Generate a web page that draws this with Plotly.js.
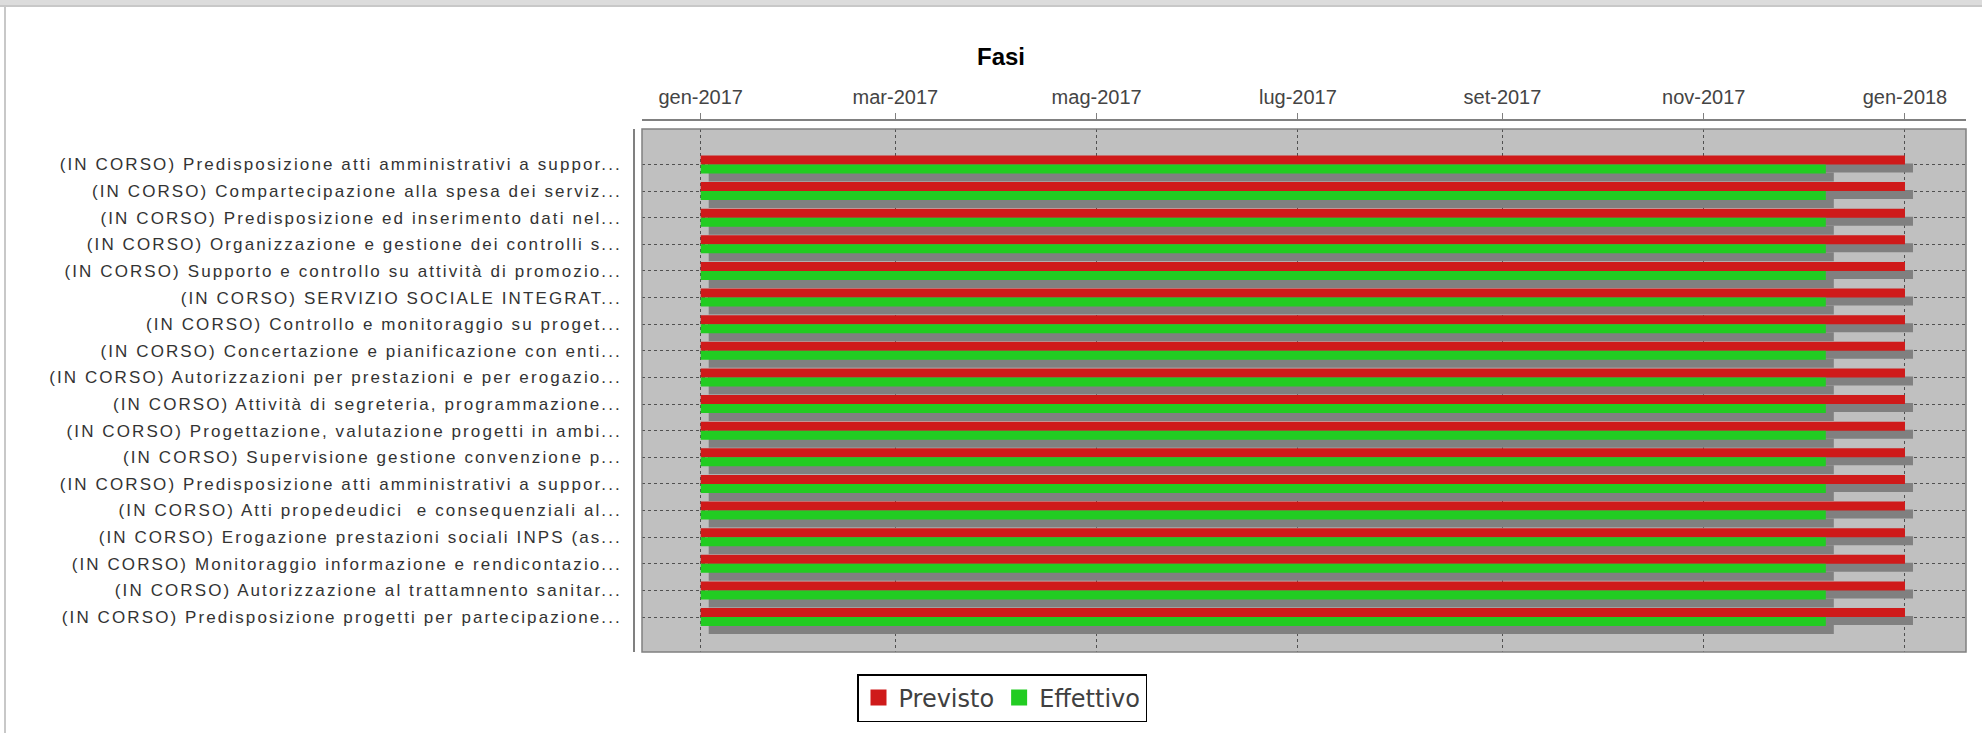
<!DOCTYPE html>
<html><head><meta charset="utf-8">
<script src="https://cdn.plot.ly/plotly-3.0.1.min.js"></script>
<style>
html,body{margin:0;padding:0;background:#fff;}
#wrap{position:relative;width:1982px;height:733px;overflow:hidden;}
#chart{width:1982px;height:733px;}
#topband{position:absolute;left:0;top:0;width:1982px;height:5px;background:#dcdcdc;border-bottom:2px solid #c8c8c8;pointer-events:none;}
#leftline{position:absolute;left:4px;top:6px;width:2px;height:727px;background:#c8c8c8;pointer-events:none;}
#chart .ytick text{letter-spacing:2.1px;}
</style></head><body>
<div id="wrap"><div id="chart"></div><div id="topband"></div><div id="leftline"></div></div>
<script>
// ---- data ----
const categories = [
  "(IN CORSO) Predisposizione atti amministrativi a suppor...",
  "(IN CORSO) Compartecipazione alla spesa dei serviz...",
  "(IN CORSO) Predisposizione ed inserimento dati nel...",
  "(IN CORSO) Organizzazione e gestione dei controlli s...",
  "(IN CORSO) Supporto e controllo su attività di promozio...",
  "(IN CORSO) SERVIZIO SOCIALE INTEGRAT...",
  "(IN CORSO) Controllo e monitoraggio su proget...",
  "(IN CORSO) Concertazione e pianificazione con enti...",
  "(IN CORSO) Autorizzazioni per prestazioni e per erogazio...",
  "(IN CORSO) Attività di segreteria, programmazione...",
  "(IN CORSO) Progettazione, valutazione progetti in ambi...",
  "(IN CORSO) Supervisione gestione convenzione p...",
  "(IN CORSO) Predisposizione atti amministrativi a suppor...",
  "(IN CORSO) Atti propedeudici \u00a0e consequenziali al...",
  "(IN CORSO) Erogazione prestazioni sociali INPS (as...",
  "(IN CORSO) Monitoraggio informazione e rendicontazio...",
  "(IN CORSO) Autorizzazione al trattamnento sanitar...",
  "(IN CORSO) Predisposizione progetti per partecipazione..."
];
const previstoStart = ["2017-01-01","2017-01-01","2017-01-01","2017-01-01","2017-01-01","2017-01-01","2017-01-01","2017-01-01","2017-01-01","2017-01-01","2017-01-01","2017-01-01","2017-01-01","2017-01-01","2017-01-01","2017-01-01","2017-01-01","2017-01-01"];
const previstoEnd   = ["2018-01-01","2018-01-01","2018-01-01","2018-01-01","2018-01-01","2018-01-01","2018-01-01","2018-01-01","2018-01-01","2018-01-01","2018-01-01","2018-01-01","2018-01-01","2018-01-01","2018-01-01","2018-01-01","2018-01-01","2018-01-01"];
const effettivoStart = ["2017-01-01","2017-01-01","2017-01-01","2017-01-01","2017-01-01","2017-01-01","2017-01-01","2017-01-01","2017-01-01","2017-01-01","2017-01-01","2017-01-01","2017-01-01","2017-01-01","2017-01-01","2017-01-01","2017-01-01","2017-01-01"];
const effettivoEnd   = ["2017-12-08","2017-12-08","2017-12-08","2017-12-08","2017-12-08","2017-12-08","2017-12-08","2017-12-08","2017-12-08","2017-12-08","2017-12-08","2017-12-08","2017-12-08","2017-12-08","2017-12-08","2017-12-08","2017-12-08","2017-12-08"];
const tickDates  = ["2017-01-01","2017-03-01","2017-05-01","2017-07-01","2017-09-01","2017-11-01","2018-01-01"];
const tickLabels = ["gen-2017","mar-2017","mag-2017","lug-2017","set-2017","nov-2017","gen-2018"];
const seriesNames = ["Previsto","Effettivo"];
const xRange = ["2016-12-14 05:00","2018-01-19 11:45"];

// ---- geometry / style ----
const W=1982,H=733, plotL=642, plotR=1966, plotT=129, plotB=652, xAxisY=120, yAxisX=634;
const paperW=plotR-yAxisX, paperH=plotB-xAxisY;
const n=categories.length;
const catPx=26.62, pxPerDay=3.2995;
const barW=9/catPx, shY=8/catPx, shDays=8/pxPerDay;
const DAY=86400000;
const idx=categories.map((c,i)=>i);
const toMs=s=>Date.parse(s.replace(' ','T')+(s.length>10?'Z':'T00:00:00Z'));
const toStr=ms=>new Date(ms).toISOString().replace('T',' ').replace('Z','');
const dur=(a,b)=>a.map((s,i)=>toMs(b[i])-toMs(s));
const shift=(a,d)=>a.map(s=>toStr(toMs(s)+d*DAY));

const RED='#cf1a1a', GREEN='#22cc22', SHADOW='#808080';
function bar(base,x,offset,color,name){
  return {type:'bar',orientation:'h',y:idx,x:x,base:base,width:barW,offset:offset,
    marker:{color:color,line:{width:0}},showlegend:false,hoverinfo:'skip',name:name};
}
const traces=[
  bar(shift(previstoStart,shDays),dur(previstoStart,previstoEnd),-barW+shY,SHADOW,'s1'),
  bar(previstoStart,dur(previstoStart,previstoEnd),-barW,RED,seriesNames[0]),
  bar(shift(effettivoStart,shDays),dur(effettivoStart,effettivoEnd),shY,SHADOW,'s2'),
  bar(effettivoStart,dur(effettivoStart,effettivoEnd),0,GREEN,seriesNames[1]),
  {type:'scatter',mode:'markers',x:[null],y:[null],name:seriesNames[0],marker:{symbol:'square',size:18,color:RED}},
  {type:'scatter',mode:'markers',x:[null],y:[null],name:seriesNames[1],marker:{symbol:'square',size:18,color:GREEN}}
];

const layout={
  width:W,height:H,paper_bgcolor:'#fff',plot_bgcolor:'#c0c0c0',
  margin:{l:yAxisX,r:W-plotR,t:xAxisY,b:H-plotB,pad:0},
  barmode:'overlay',
  title:{text:'Fasi',font:{family:'Liberation Sans, Arial, sans-serif',size:24,weight:'bold',color:'#000'},
    x:1001/W,xref:'container',xanchor:'center',y:1-57/H,yref:'container',yanchor:'middle'},
  xaxis:{type:'date',side:'top',anchor:'free',position:1,domain:[(plotL-yAxisX)/paperW,1],
    range:xRange,tickmode:'array',tickvals:tickDates,ticktext:tickLabels,
    ticks:'outside',ticklen:6,tickcolor:'#808080',tickwidth:1,
    showline:true,linecolor:'#808080',linewidth:1.5,
    showgrid:true,gridcolor:'#505050',gridwidth:1,griddash:'3px,3px',zeroline:false,
    tickfont:{family:'Liberation Sans, Arial, sans-serif',size:20,color:'#444'},ticklabelstandoff:1,fixedrange:true},
  yaxis:{anchor:'free',position:0,domain:[0,(plotB-plotT)/paperH],range:[n-1+35/catPx,-35.5/catPx],
    tickmode:'array',tickvals:idx,ticktext:categories,ticks:'',
    showline:true,linecolor:'#808080',linewidth:1.5,
    showgrid:true,gridcolor:'#505050',gridwidth:1,griddash:'3px,3px',zeroline:false,
    tickfont:{family:'Liberation Sans, Arial, sans-serif',size:17,color:'#333'},ticklabelstandoff:8,fixedrange:true},
  showlegend:true,
  legend:{orientation:'h',xref:'container',yref:'container',x:1002/W,xanchor:'center',y:1-674/H,yanchor:'top',
    bordercolor:'#000',borderwidth:1.5,bgcolor:'#fff',
    font:{family:'DejaVu Sans, sans-serif',size:24,color:'#404040'},itemclick:false,itemdoubleclick:false},
  shapes:[{type:'rect',xref:'x domain',yref:'y domain',x0:0,x1:1,y0:0,y1:1,line:{color:'#808080',width:1.5},fillcolor:'rgba(0,0,0,0)',layer:'above'}]
};
Plotly.newPlot('chart',traces,layout,{displayModeBar:false,responsive:false});
</script>
</body></html>
